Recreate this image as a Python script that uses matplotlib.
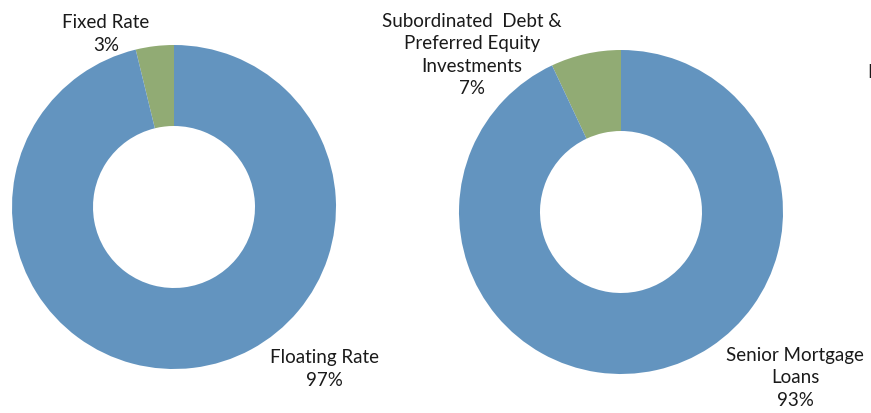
import matplotlib.pyplot as plt

# Data
rate_labels = ["Fixed Rate", "Floating Rate"]
rate_values = [3.8, 96.2]
rate_pct = ["3%", "97%"]

type_labels = ["Subordinated  Debt &\nPreferred Equity\nInvestments", "Senior Mortgage\nLoans"]
type_values = [7, 93]
type_pct = ["7%", "93%"]

colors = ["#91AB74", "#6394BF"]

plt.rcParams["font.family"] = ["Lato", "DejaVu Sans"]

W, H = 871, 414
fig = plt.figure(figsize=(W / 100, H / 100), dpi=100)


def px_axes(cx, cy, r):
    return fig.add_axes([(cx - r) / W, (H - cy - r) / H, 2 * r / W, 2 * r / H])


def donut(ax, values):
    ax.pie(values, colors=colors, startangle=90, counterclock=True,
           wedgeprops=dict(width=0.5, edgecolor="none"))
    ax.set_xlim(-1, 1)
    ax.set_ylim(-1, 1)
    ax.set_aspect("equal")
    ax.axis("off")


def label(x, y, txt):
    fig.text(x / W, 1 - y / H, txt, ha="center", va="center",
             fontsize=13.5, linespacing=1.38, color="#1a1a1a")


ax1 = px_axes(174, 208, 162)
donut(ax1, rate_values)
ax2 = px_axes(621, 213, 162)
donut(ax2, type_values)

label(106, 34, rate_labels[0] + "\n" + rate_pct[0])
label(324, 369, rate_labels[1] + "\n" + rate_pct[1])
label(472, 55, type_labels[0] + "\n" + type_pct[0])
label(795, 378, type_labels[1] + "\n" + type_pct[1])

# clipped label from a third chart at the right edge
fig.text(867.5 / W, 1 - 72 / H, "I", ha="left", va="center", fontsize=13.5, color="#1a1a1a")

fig.savefig("out.png", dpi=100, facecolor="white")
